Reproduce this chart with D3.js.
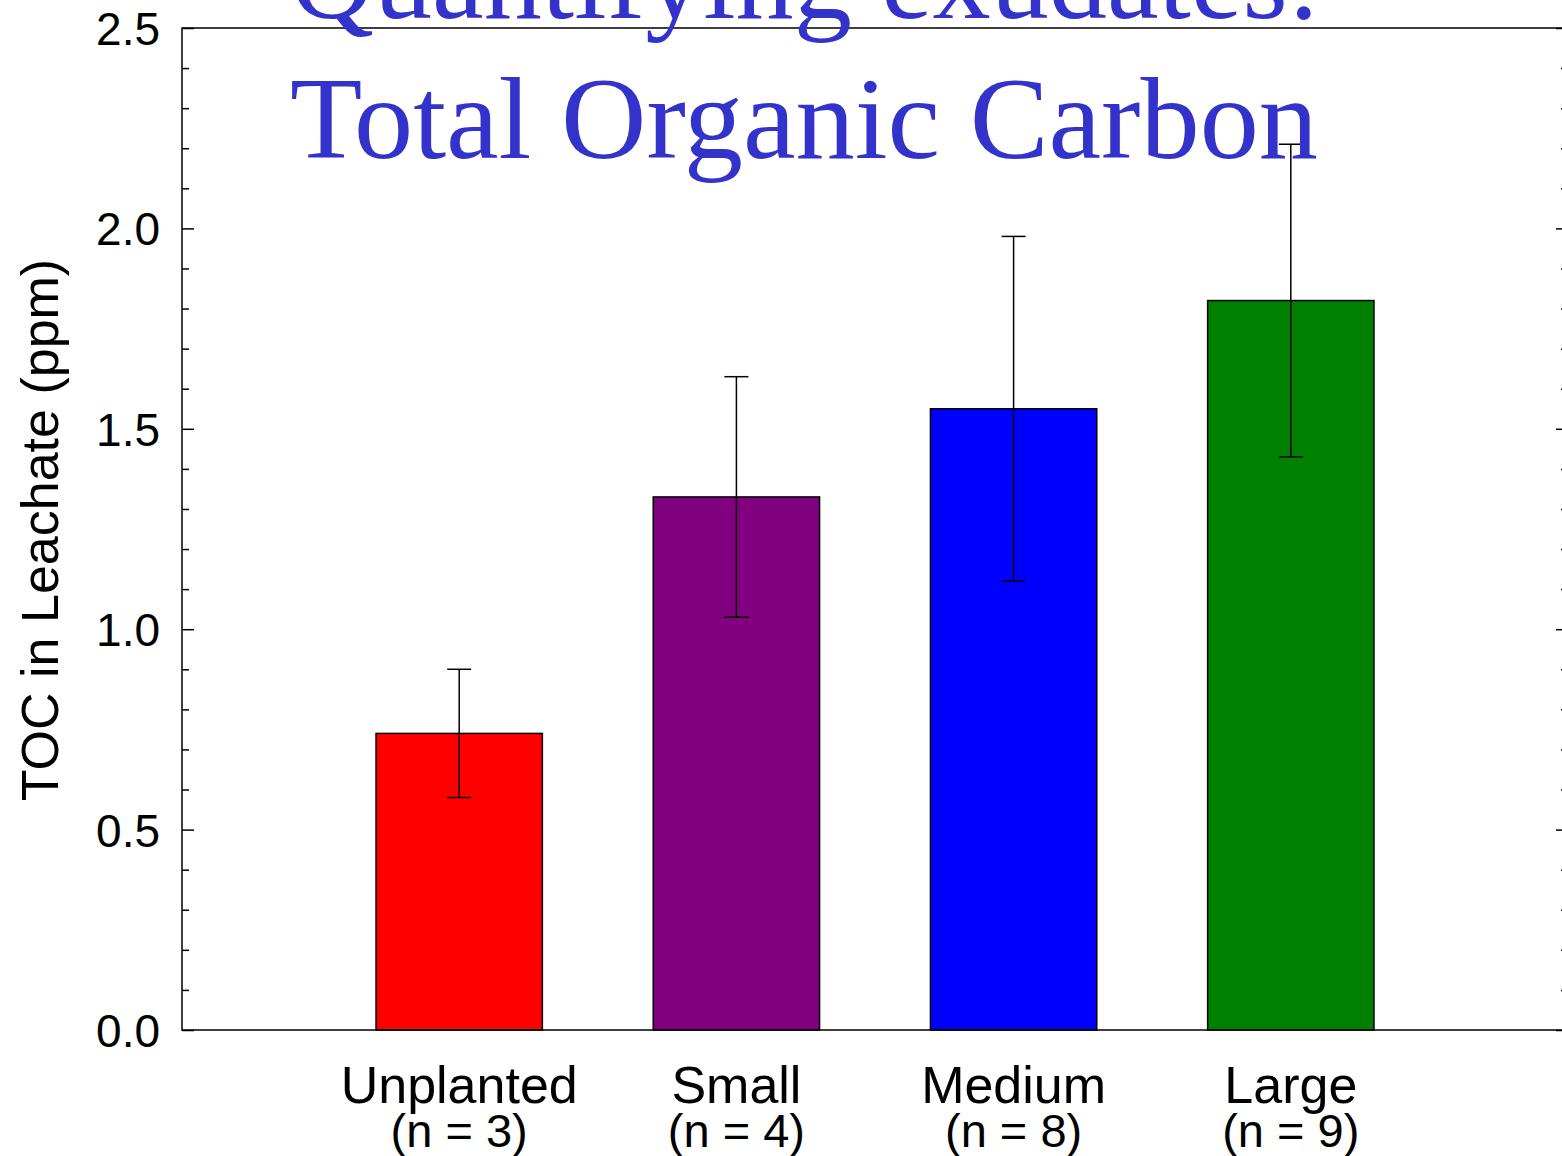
<!DOCTYPE html>
<html lang="en">
<head>
<meta charset="UTF-8">
<title>Total Organic Carbon</title>
<script src="https://d3js.org/d3.v7.min.js"></script>
<style>
    body { margin: 0; background: #fff; overflow: hidden; }
    text { font-family: "Liberation Sans", Arial, sans-serif; fill: #000; }
    .title { font-family: "Liberation Serif", "Times New Roman", serif; fill: #3333cc; font-size: 117px; }
    .tick line { stroke: #000; stroke-width: 1.5px; }
</style>
</head>
<body>
<script>
const categories = ["Unplanted", "Small", "Medium", "Large"];
const nLabels = ["(n = 3)", "(n = 4)", "(n = 8)", "(n = 9)"];
const means = [0.74, 1.33, 1.55, 1.82];
const errs = [0.16, 0.30, 0.43, 0.39];
const colors = ["#ff0000", "#800080", "#0000ff", "#008000"];
const yTicks = [0.0, 0.5, 1.0, 1.5, 2.0, 2.5];

const width = 1562, height = 1156;
const plotLeft = 182, plotRight = 1568, plotTop = 28, plotBottom = 1030;

const svg = d3.select("body").append("svg")
    .attr("width", width)
    .attr("height", height);

const x = d3.scaleLinear().domain([0, categories.length + 1]).range([plotLeft, plotRight]);
const y = d3.scaleLinear().domain([0, 2.5]).range([plotBottom, plotTop]);
const halfBar = (x(0.3) - x(0));
const cap = 12;

const minorTicks = d3.range(0, 26).map(d => d / 10).filter(d => Math.round(d * 10) % 5 !== 0);

// left axis: major with labels, minor without
svg.append("g")
    .attr("transform", `translate(${plotLeft},0)`)
    .call(d3.axisLeft(y).tickValues(yTicks).tickFormat(d3.format(".1f"))
        .tickSizeInner(-12).tickSizeOuter(0).tickPadding(22))
    .call(g => g.select(".domain").remove())
    .call(g => g.selectAll("text").attr("font-size", 46).attr("dy", "0.36em"));

svg.append("g")
    .attr("transform", `translate(${plotLeft},0)`)
    .call(d3.axisLeft(y).tickValues(minorTicks).tickFormat("").tickSizeInner(-7).tickSizeOuter(0))
    .call(g => g.select(".domain").remove());

// right axis
svg.append("g")
    .attr("transform", `translate(${plotRight},0)`)
    .call(d3.axisRight(y).tickValues(yTicks).tickFormat("").tickSizeInner(-12).tickSizeOuter(0))
    .call(g => g.select(".domain").remove());

svg.append("g")
    .attr("transform", `translate(${plotRight},0)`)
    .call(d3.axisRight(y).tickValues(minorTicks).tickFormat("").tickSizeInner(-7).tickSizeOuter(0))
    .call(g => g.select(".domain").remove());

// bars
svg.append("g")
    .selectAll("rect")
    .data(means)
    .join("rect")
    .attr("x", (d, i) => x(i + 1) - halfBar)
    .attr("width", halfBar * 2)
    .attr("y", d => y(d))
    .attr("height", d => y(0) - y(d))
    .attr("fill", (d, i) => colors[i])
    .attr("stroke", "#000")
    .attr("stroke-width", 1.5);

// error bars
const eb = svg.append("g")
    .attr("stroke", "#000")
    .attr("stroke-width", 1.5)
    .selectAll("g")
    .data(means)
    .join("g");

eb.append("line")
    .attr("x1", (d, i) => x(i + 1)).attr("x2", (d, i) => x(i + 1))
    .attr("y1", (d, i) => y(d - errs[i])).attr("y2", (d, i) => y(d + errs[i]));
eb.append("line")
    .attr("x1", (d, i) => x(i + 1) - cap).attr("x2", (d, i) => x(i + 1) + cap)
    .attr("y1", (d, i) => y(d + errs[i])).attr("y2", (d, i) => y(d + errs[i]));
eb.append("line")
    .attr("x1", (d, i) => x(i + 1) - cap).attr("x2", (d, i) => x(i + 1) + cap)
    .attr("y1", (d, i) => y(d - errs[i])).attr("y2", (d, i) => y(d - errs[i]));

// frame
svg.append("rect")
    .attr("x", plotLeft).attr("y", plotTop)
    .attr("width", plotRight - plotLeft).attr("height", plotBottom - plotTop)
    .attr("fill", "none")
    .attr("stroke", "#000")
    .attr("stroke-width", 1.5);

// category labels
const cat = svg.append("g")
    .selectAll("g")
    .data(categories)
    .join("g")
    .attr("transform", (d, i) => `translate(${x(i + 1)},0)`);

cat.append("text")
    .attr("y", 1103)
    .attr("text-anchor", "middle")
    .attr("font-size", 52)
    .text(d => d);

cat.append("text")
    .attr("y", 1147)
    .attr("text-anchor", "middle")
    .attr("font-size", 47)
    .text((d, i) => nLabels[i]);

// y axis title
svg.append("text")
    .attr("transform", "translate(58,530) rotate(-90)")
    .attr("text-anchor", "middle")
    .attr("font-size", 52)
    .text("TOC in Leachate (ppm)");

// title
svg.append("text")
    .attr("class", "title")
    .attr("x", 290).attr("y", 18)
    .attr("textLength", 1030)
    .attr("lengthAdjust", "spacingAndGlyphs")
    .text("Quantifying exudates:");

svg.append("text")
    .attr("class", "title")
    .attr("x", 290).attr("y", 158)
    .attr("textLength", 1028)
    .attr("lengthAdjust", "spacingAndGlyphs")
    .text("Total Organic Carbon");
</script>
</body>
</html>
